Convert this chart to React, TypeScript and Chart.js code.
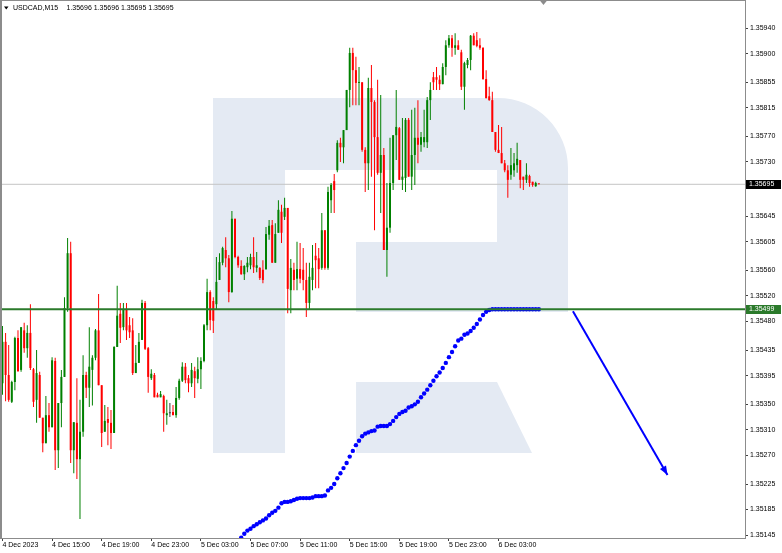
import React, { useEffect, useRef } from 'react';
import { Chart, registerables } from 'chart.js';

Chart.register(...registerables);

// ---- DATA (USDCAD, M15) ----
const opens = [
  1.35383,1.35448,1.35396,1.35354,1.35385,1.35454,1.35404,1.35466,1.35438,1.35462,
  1.35405,1.35357,1.35396,1.35329,1.35289,1.35333,1.35314,1.35418,1.35278,1.35352,
  1.35393,1.35501,1.35587,1.35278,1.35321,1.35264,1.35307,1.35396,1.35376,1.35404,
  1.35423,1.35466,1.35380,1.35307,1.35327,1.35321,1.35305,1.35440,1.35492,1.35471,
  1.35498,1.35474,1.35466,1.35399,1.35415,1.35451,1.35509,1.35438,1.35391,1.35396,
  1.35365,1.35361,1.35363,1.35333,1.35336,1.35338,1.35333,1.35360,1.35387,1.35409,
  1.35391,1.35383,1.35402,1.35390,1.35405,1.35418,1.35474,1.35526,1.35512,1.35507,
  1.35545,1.35572,1.35592,1.35579,1.35526,1.35641,1.35581,1.35567,1.35554,1.35565,
  1.35568,1.35581,1.35564,1.35564,1.35561,1.35562,1.35616,1.35631,1.35572,1.35619,
  1.35652,1.35644,1.35658,1.35529,1.35561,1.35547,1.35562,1.35561,1.35545,1.35509,
  1.35545,1.35583,1.35579,1.35564,1.35623,1.35564,1.35670,1.35700,1.35717,1.35760,
  1.35753,1.35780,1.35843,1.35901,1.35874,1.35854,1.35855,1.35749,1.35728,1.35846,
  1.35824,1.35769,1.35713,1.35741,1.35592,1.35627,1.35697,1.35772,1.35783,1.35702,
  1.35705,1.35796,1.35707,1.35741,1.35768,1.35757,1.35761,1.35761,1.35827,1.35863,
  1.35863,1.35859,1.35852,1.35879,1.35913,1.35924,1.35909,1.35913,1.35902,1.35848,
  1.35882,1.35890,1.35928,1.35921,1.35913,1.35909,1.35860,1.35833,1.35827,1.35777,
  1.35749,1.35744,1.35728,1.35717,1.35710,1.35717,1.35725,1.35733,1.35707,1.35702,
  1.35708,1.35699,1.35692,1.35696,
];
const highs = [
  1.35473,1.35462,1.35443,1.35387,1.35456,1.35466,1.35471,1.35478,1.35474,1.35507,
  1.35407,1.35435,1.35401,1.35329,1.35363,1.35352,1.35424,1.35423,1.35352,1.35404,
  1.35518,1.35611,1.35605,1.35322,1.35391,1.35357,1.35427,1.35401,1.35471,1.35427,
  1.35468,1.35523,1.35380,1.35349,1.35346,1.35341,1.35441,1.35536,1.35509,1.35509,
  1.35509,1.35487,1.35485,1.35443,1.35462,1.35514,1.35512,1.35440,1.35405,1.35399,
  1.35368,1.35371,1.35365,1.35357,1.35352,1.35349,1.35377,1.35390,1.35416,1.35415,
  1.35396,1.35415,1.35409,1.35424,1.35424,1.35476,1.35547,1.35529,1.35518,1.35581,
  1.35587,1.35597,1.35612,1.35584,1.35653,1.35641,1.35583,1.35576,1.35568,1.35581,
  1.35586,1.35612,1.35589,1.35565,1.35576,1.35628,1.35639,1.35639,1.35634,1.35670,
  1.35663,1.35674,1.35658,1.35578,1.35572,1.35605,1.35603,1.35595,1.35572,1.35572,
  1.35600,1.35603,1.35595,1.35650,1.35623,1.35691,1.35697,1.35711,1.35764,1.35768,
  1.35780,1.35843,1.35909,1.35909,1.35895,1.35879,1.35855,1.35753,1.35862,1.35882,
  1.35827,1.35859,1.35835,1.35752,1.35697,1.35768,1.35772,1.35843,1.35785,1.35799,
  1.35799,1.35799,1.35812,1.35815,1.35827,1.35777,1.35812,1.35832,1.35855,1.35871,
  1.35879,1.35866,1.35885,1.35921,1.35929,1.35929,1.35932,1.35921,1.35906,1.35887,
  1.35893,1.35929,1.35932,1.35934,1.35924,1.35910,1.35874,1.35848,1.35840,1.35777,
  1.35788,1.35785,1.35733,1.35725,1.35752,1.35744,1.35760,1.35733,1.35707,1.35728,
  1.35710,1.35699,1.35699,1.35696,
];
const lows = [
  1.35365,1.35355,1.35354,1.35352,1.35372,1.35401,1.35401,1.35431,1.35423,1.35404,
  1.35346,1.35321,1.35329,1.35275,1.35289,1.35307,1.35314,1.35247,1.35250,1.35314,
  1.35393,1.35495,1.35258,1.35242,1.35233,1.35170,1.35299,1.35360,1.35346,1.35348,
  1.35419,1.35380,1.35283,1.35307,1.35286,1.35280,1.35305,1.35440,1.35446,1.35466,
  1.35451,1.35454,1.35396,1.35399,1.35415,1.35451,1.35435,1.35368,1.35388,1.35361,
  1.35361,1.35361,1.35307,1.35318,1.35330,1.35333,1.35329,1.35357,1.35385,1.35383,
  1.35369,1.35377,1.35360,1.35383,1.35374,1.35416,1.35466,1.35466,1.35462,1.35498,
  1.35545,1.35568,1.35565,1.35510,1.35525,1.35579,1.35564,1.35553,1.35545,1.35557,
  1.35562,1.35556,1.35557,1.35545,1.35540,1.35561,1.35608,1.35572,1.35572,1.35619,
  1.35603,1.35639,1.35493,1.35493,1.35529,1.35529,1.35540,1.35529,1.35487,1.35498,
  1.35529,1.35532,1.35532,1.35561,1.35561,1.35561,1.35650,1.35650,1.35714,1.35730,
  1.35728,1.35780,1.35816,1.35819,1.35819,1.35819,1.35746,1.35683,1.35686,1.35707,
  1.35623,1.35710,1.35650,1.35592,1.35550,1.35619,1.35686,1.35733,1.35702,1.35686,
  1.35683,1.35707,1.35686,1.35694,1.35728,1.35746,1.35753,1.35752,1.35796,1.35843,
  1.35843,1.35843,1.35852,1.35866,1.35909,1.35895,1.35898,1.35906,1.35843,1.35812,
  1.35877,1.35874,1.35913,1.35910,1.35906,1.35859,1.35830,1.35826,1.35777,1.35746,
  1.35744,1.35728,1.35714,1.35674,1.35702,1.35707,1.35713,1.35689,1.35686,1.35697,
  1.35691,1.35691,1.35691,1.35695,
];
const closes = [
  1.35448,1.35396,1.35357,1.35385,1.35454,1.35402,1.35471,1.35438,1.35462,1.35407,
  1.35354,1.35399,1.35329,1.35289,1.35333,1.35314,1.35419,1.35278,1.35352,1.35393,
  1.35501,1.35587,1.35278,1.35322,1.35264,1.35307,1.35396,1.35376,1.35409,1.35423,
  1.35466,1.35380,1.35305,1.35324,1.35321,1.35305,1.35440,1.35489,1.35470,1.35498,
  1.35466,1.35463,1.35399,1.35415,1.35448,1.35509,1.35437,1.35393,1.35398,1.35361,
  1.35361,1.35366,1.35336,1.35336,1.35336,1.35333,1.35360,1.35387,1.35409,1.35388,
  1.35383,1.35404,1.35391,1.35405,1.35418,1.35474,1.35526,1.35482,1.35481,1.35542,
  1.35573,1.35595,1.35579,1.35526,1.35641,1.35581,1.35568,1.35554,1.35567,1.35572,
  1.35581,1.35565,1.35568,1.35548,1.35545,1.35617,1.35630,1.35572,1.35617,1.35655,
  1.35619,1.35658,1.35531,1.35564,1.35545,1.35562,1.35547,1.35545,1.35509,1.35550,
  1.35564,1.35576,1.35562,1.35623,1.35564,1.35683,1.35694,1.35686,1.35760,1.35753,
  1.35780,1.35843,1.35901,1.35874,1.35854,1.35855,1.35749,1.35728,1.35846,1.35824,
  1.35769,1.35713,1.35741,1.35592,1.35627,1.35697,1.35772,1.35785,1.35702,1.35707,
  1.35796,1.35707,1.35741,1.35768,1.35757,1.35769,1.35769,1.35827,1.35843,1.35855,
  1.35859,1.35852,1.35879,1.35913,1.35924,1.35909,1.35913,1.35906,1.35848,1.35885,
  1.35890,1.35928,1.35913,1.35912,1.35909,1.35860,1.35830,1.35827,1.35777,1.35749,
  1.35744,1.35728,1.35717,1.35702,1.35725,1.35728,1.35735,1.35702,1.35702,1.35710,
  1.35697,1.35694,1.35697,1.35695,
];

// blue dotted path (one dot per bar, starting at bar index dotsStart)
const dotsStart = 75;
const dotValues = [
  1.35131,1.35136,
  1.35141,1.35147,1.35152,1.35155,1.35159,1.35162,1.35165,1.35168,1.35171,1.35176,
  1.35180,1.35183,1.35188,1.35195,1.35197,1.35197,1.35198,1.35200,1.35202,1.35203,
  1.35203,1.35203,1.35203,1.35204,1.35206,1.35206,1.35206,1.35207,1.35215,1.35219,
  1.35225,1.35234,1.35242,1.35250,1.35258,1.35268,1.35277,1.35286,1.35293,1.35300,
  1.35304,1.35306,1.35308,1.35309,1.35315,1.35316,1.35316,1.35316,1.35319,1.35324,
  1.35330,1.35335,1.35338,1.35340,1.35345,1.35347,1.35350,1.35354,1.35361,1.35367,
  1.35373,1.35380,1.35387,1.35394,1.35400,1.35407,1.35415,1.35424,1.35432,1.35441,
  1.35450,1.35453,1.35459,1.35461,1.35465,1.35470,1.35476,1.35483,1.35490,1.35495,
  1.35498,1.35499,1.35499,1.35499,1.35499,1.35499,1.35499,1.35499,1.35499,1.35499,
  1.35499,1.35499,1.35499,1.35499,1.35499,1.35499,1.35499,
];

const xTickBars = [0, 16, 32, 48, 64, 80, 96, 112, 128, 144, 160];
const xTickLabels = [
  '4 Dec 2023', '4 Dec 15:00', '4 Dec 19:00', '4 Dec 23:00', '5 Dec 03:00',
  '5 Dec 07:00', '5 Dec 11:00', '5 Dec 15:00', '5 Dec 19:00', '5 Dec 23:00', '6 Dec 03:00',
];
const yTickValues = [
  1.3594, 1.359, 1.35855, 1.35815, 1.3577, 1.3573, 1.3569, 1.35645, 1.35605, 1.3556,
  1.3552, 1.3548, 1.35435, 1.35395, 1.3535, 1.3531, 1.3527, 1.35225, 1.35185, 1.35145,
];

const supportLevel = 1.35499;
const currentPrice = 1.35695;
const arrowBars = [184, 214.5];
const arrowPrices = [1.35496, 1.35239];
const symbolTitle = 'USDCAD,M15';
const lastBarText = '1.35696 1.35696 1.35695 1.35695';

const GREEN = '#008000';
const RED = '#ff0000';
const DOJI = '#3a3a3a';
const LEVEL_GREEN = '#2b7a2b';
const BLUE = '#0000ff';
const WATERMARK = '#e4eaf3';
const FONT = '"Liberation Sans", Arial, sans-serif';

const zeroPad = (s: any) => {
  s.paddingLeft = 0;
  s.paddingRight = 0;
  s.paddingTop = 0;
  s.paddingBottom = 0;
};

export default function App() {
  const ref = useRef<HTMLCanvasElement | null>(null);

  useEffect(() => {
    document.body.style.margin = '0';
    const canvas = ref.current;
    if (!canvas) return;
    const n = opens.length;
    const idx = Array.from({ length: n }, (_, i) => i);
    const colors = idx.map((i) => (closes[i] > opens[i] ? GREEN : closes[i] < opens[i] ? RED : DOJI));
    const xMin = -0.8;
    const xMax = 239.5;
    const yMax = 1.35984;
    const yMin = 1.351404;

    const decor = {
      id: 'decor',
      beforeDatasetsDraw(chart: any) {
        const { ctx, chartArea: a } = chart;
        const X = (f: number) => a.left + f * (a.right - a.left);
        const Y = (f: number) => a.top + f * (a.bottom - a.top);
        ctx.save();
        ctx.fillStyle = WATERMARK;
        ctx.fillRect(X(0.2859), Y(0.1822), X(0.3826) - X(0.2859), Y(0.842) - Y(0.1822));
        const r = X(0.094) - X(0);
        ctx.beginPath();
        ctx.moveTo(X(0.3826), Y(0.1822));
        ctx.lineTo(X(0.7624) - r, Y(0.1822));
        ctx.arcTo(X(0.7624), Y(0.1822), X(0.7624), Y(0.1822) + r, r);
        ctx.lineTo(X(0.7624), Y(0.5799));
        ctx.lineTo(X(0.4779), Y(0.5799));
        ctx.lineTo(X(0.4779), Y(0.4498));
        ctx.lineTo(X(0.6671), Y(0.4498));
        ctx.lineTo(X(0.6671), Y(0.316));
        ctx.lineTo(X(0.3826), Y(0.316));
        ctx.closePath();
        ctx.fill();
        ctx.beginPath();
        ctx.moveTo(X(0.4779), Y(0.71));
        ctx.lineTo(X(0.6671), Y(0.71));
        ctx.lineTo(X(0.7141), Y(0.842));
        ctx.lineTo(X(0.4779), Y(0.842));
        ctx.closePath();
        ctx.fill();
        ctx.restore();
      },
      afterDatasetsDraw(chart: any) {
        const { ctx, chartArea: a } = chart;
        ctx.save();
        // arrow head
        const meta = chart.getDatasetMeta(5);
        const p0 = meta.data[0];
        const p1 = meta.data[1];
        if (p0 && p1) {
          const ang = Math.atan2(p1.y - p0.y, p1.x - p0.x);
          const L = 9;
          const W = 3.5;
          ctx.fillStyle = BLUE;
          ctx.beginPath();
          ctx.moveTo(p1.x, p1.y);
          ctx.lineTo(p1.x - L * Math.cos(ang) + W * Math.sin(ang), p1.y - L * Math.sin(ang) - W * Math.cos(ang));
          ctx.lineTo(p1.x - L * Math.cos(ang) - W * Math.sin(ang), p1.y - L * Math.sin(ang) + W * Math.cos(ang));
          ctx.closePath();
          ctx.fill();
        }
        // frame (left and top)
        ctx.fillStyle = '#8c8c8c';
        ctx.fillRect(a.left, a.top, 2, a.bottom - a.top);
        ctx.fillRect(a.left, a.top, a.right - a.left, 1);
        // shift marker
        const xs = chart.scales.x.getPixelForValue(n + 0.5);
        ctx.fillStyle = '#8c8c8c';
        ctx.beginPath();
        ctx.moveTo(xs - 4, a.top);
        ctx.lineTo(xs + 4, a.top);
        ctx.lineTo(xs, a.top + 5);
        ctx.closePath();
        ctx.fill();
        // title
        ctx.fillStyle = '#000';
        ctx.beginPath();
        ctx.moveTo(a.left + 4, a.top + 6.5);
        ctx.lineTo(a.left + 8.5, a.top + 6.5);
        ctx.lineTo(a.left + 6.25, a.top + 9.5);
        ctx.closePath();
        ctx.fill();
        ctx.font = `7px ${FONT}`;
        ctx.textBaseline = 'middle';
        ctx.textAlign = 'left';
        ctx.fillText(symbolTitle, a.left + 13, a.top + 8.5);
        ctx.fillText(lastBarText, a.left + 66.5, a.top + 8.5);
        ctx.restore();
      },
      afterDraw(chart: any) {
        const { ctx, chartArea: a } = chart;
        const ys = chart.scales.y;
        ctx.save();
        ctx.font = `7px ${FONT}`;
        ctx.textBaseline = 'middle';
        ctx.textAlign = 'left';
        const box = (v: number, bg: string) => {
          const y = ys.getPixelForValue(v);
          ctx.fillStyle = bg;
          ctx.fillRect(a.right + 1, Math.round(y) - 4, 35, 9);
          ctx.fillStyle = '#fff';
          ctx.fillText(v.toFixed(5), a.right + 4, Math.round(y) + 0.5);
        };
        box(currentPrice, '#000000');
        box(supportLevel, LEVEL_GREEN);
        ctx.restore();
      },
    };

    const chart = new Chart(canvas, {
      type: 'bar',
      data: {
        datasets: [
          {
            type: 'bar',
            label: 'wicks',
            data: idx.map((i) => ({ x: i, y: [lows[i], highs[i]] })),
            backgroundColor: colors,
            barThickness: 1,
            grouped: false,
            inflateAmount: 0,
            borderWidth: 0,
            order: 3,
          },
          {
            type: 'bar',
            label: 'bodies',
            data: idx.map((i) => ({ x: i, y: [Math.min(opens[i], closes[i]), Math.max(opens[i], closes[i])] })),
            backgroundColor: colors,
            barThickness: 2,
            minBarLength: 1,
            grouped: false,
            inflateAmount: 0,
            borderWidth: 0,
            order: 2,
          },
          {
            type: 'line',
            label: 'current',
            data: [{ x: xMin, y: currentPrice }, { x: xMax, y: currentPrice }],
            borderColor: '#c4c4c4',
            borderWidth: 1,
            pointRadius: 0,
            order: 5,
          },
          {
            type: 'line',
            label: 'support',
            data: [{ x: xMin, y: supportLevel }, { x: xMax, y: supportLevel }],
            borderColor: LEVEL_GREEN,
            borderWidth: 2,
            pointRadius: 0,
            order: 0,
          },
          {
            type: 'line',
            label: 'path',
            data: dotValues.map((v, k) => ({ x: dotsStart + k, y: v })),
            showLine: false,
            pointRadius: 2.2,
            pointBackgroundColor: BLUE,
            pointBorderColor: BLUE,
            pointBorderWidth: 0,
            order: 1,
          },
          {
            type: 'line',
            label: 'arrow',
            data: arrowBars.map((b, k) => ({ x: b, y: arrowPrices[k] })),
            borderColor: BLUE,
            borderWidth: 2,
            pointRadius: 0,
            order: 1,
          },
        ],
      } as any,
      options: {
        responsive: false,
        animation: false,
        devicePixelRatio: 1,
        events: [],
        layout: { padding: 0, autoPadding: false },
        plugins: { legend: { display: false }, tooltip: { enabled: false } },
        scales: {
          x: {
            type: 'linear',
            min: xMin,
            max: xMax,
            offset: false,
            afterBuildTicks: (s: any) => {
              s.ticks = xTickBars.map((v) => ({ value: v }));
            },
            afterFit: (s: any) => {
              s.height = 15;
              zeroPad(s);
            },
            grid: { display: true, drawOnChartArea: false, drawTicks: true, tickLength: 3, color: '#404040', offset: false },
            border: { display: true, color: '#8c8c8c', width: 1 },
            ticks: {
              autoSkip: false,
              maxRotation: 0,
              minRotation: 0,
              align: 'start',
              padding: 0,
              color: '#000',
              font: { family: FONT, size: 7 },
              callback: (v: any) => {
                const k = xTickBars.indexOf(Number(v));
                return k >= 0 ? xTickLabels[k] : '';
              },
            },
          },
          y: {
            type: 'linear',
            position: 'right',
            min: yMin,
            max: yMax,
            beginAtZero: false,
            afterBuildTicks: (s: any) => {
              s.ticks = yTickValues.map((v) => ({ value: v }));
            },
            afterFit: (s: any) => {
              s.width = 37;
              zeroPad(s);
            },
            grid: { display: true, drawOnChartArea: false, drawTicks: true, tickLength: 3, color: '#404040' },
            border: { display: true, color: '#8c8c8c', width: 1 },
            ticks: {
              padding: 2,
              color: '#000',
              font: { family: FONT, size: 7 },
              callback: (v: any) => Number(v).toFixed(5),
            },
          },
        },
      } as any,
      plugins: [decor],
    });

    return () => chart.destroy();
  }, []);

  return (
    <div style={{ width: 782, height: 553 }}>
      <canvas ref={ref} width={782} height={553} style={{ display: 'block' }} />
    </div>
  );
}
